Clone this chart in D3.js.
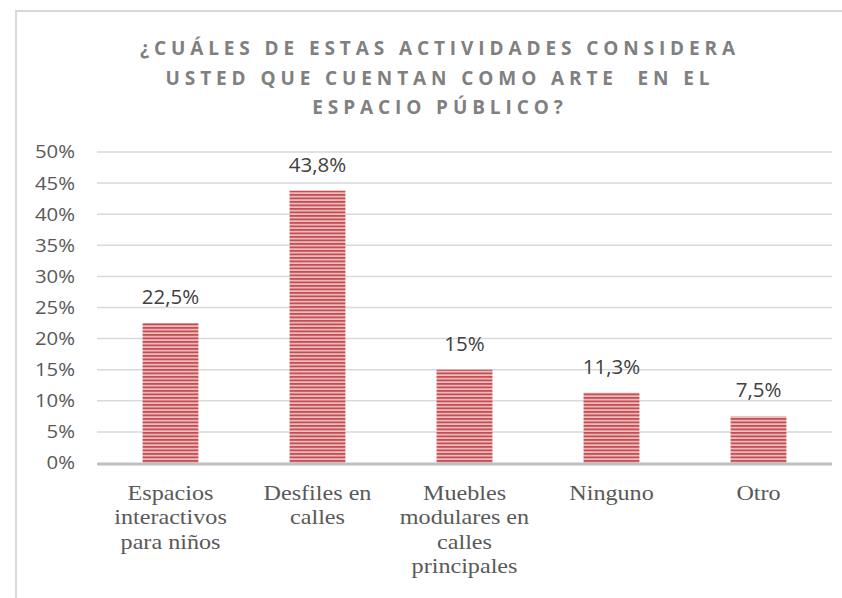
<!DOCTYPE html>
<html>
<head>
<meta charset="utf-8">
<script src="https://cdn.jsdelivr.net/npm/d3@7"></script>
<style>
  body { margin: 0; background: #fff; }
  text { white-space: pre; }
</style>
</head>
<body>
<div id="chart"></div>
<script>
let categories = [
  ['Espacios', 'interactivos', 'para niños'],
  ['Desfiles en', 'calles'],
  ['Muebles', 'modulares en', 'calles', 'principales'],
  ['Ninguno'],
  ['Otro']
]
let values = [22.5, 43.8, 15, 11.3, 7.5]
let valueLabels = ['22,5%', '43,8%', '15%', '11,3%', '7,5%']
let yTicks = [0, 5, 10, 15, 20, 25, 30, 35, 40, 45, 50]
let titleLines = [
  '¿CUÁLES DE ESTAS ACTIVIDADES CONSIDERA',
  'USTED QUE CUENTAN COMO ARTE  EN EL',
  'ESPACIO PÚBLICO?'
]

let margin = { top: 152, left: 97, right: 10, bottom: 135 }
let width = 842 - margin.left - margin.right
let height = 598 - margin.top - margin.bottom

let root = d3
  .select('#chart')
  .append('svg')
  .attr('width', 842)
  .attr('height', 598)

// striped fill for bars
let pattern = root
  .append('defs')
  .append('pattern')
  .attr('id', 'stripes')
  .attr('patternUnits', 'userSpaceOnUse')
  .attr('width', 8)
  .attr('height', 3.5)
pattern.append('rect').attr('width', 8).attr('height', 3.5).attr('fill', '#f0bcbc')
pattern.append('rect').attr('width', 8).attr('height', 1.8).attr('fill', '#c24f55')

// chart frame
root
  .append('path')
  .attr('d', 'M16,598 L16,11 L842,11')
  .attr('fill', 'none')
  .attr('stroke', '#d9d9d9')
  .attr('stroke-width', 2)

// title
root
  .append('g')
  .selectAll('text')
  .data(titleLines)
  .enter()
  .append('text')
  .attr('x', 440)
  .attr('y', (d, i) => 55 + i * 29.5)
  .attr('text-anchor', 'middle')
  .attr('font-family', 'Open Sans, sans-serif')
  .attr('font-weight', 'bold')
  .attr('font-size', 19)
  .attr('letter-spacing', 4.9)
  .attr('fill', '#808080')
  .text(d => d)

let svg = root
  .append('g')
  .attr('transform', 'translate(' + margin.left + ',' + margin.top + ')')

let xPositionScale = d3
  .scaleBand()
  .domain(d3.range(values.length))
  .range([0, width])
  .paddingInner(0.62)
  .paddingOuter(0.31)

let yPositionScale = d3.scaleLinear().domain([0, 50]).range([height, 0])

// gridlines
svg
  .selectAll('.grid')
  .data(yTicks.slice(1))
  .enter()
  .append('line')
  .attr('class', 'grid')
  .attr('x1', 0)
  .attr('x2', width)
  .attr('y1', d => yPositionScale(d))
  .attr('y2', d => yPositionScale(d))
  .attr('stroke', '#d9d9d9')
  .attr('stroke-width', 1.5)

// y labels
svg
  .selectAll('.y-label')
  .data(yTicks)
  .enter()
  .append('text')
  .attr('class', 'y-label')
  .attr('transform', d => 'translate(-22,' + yPositionScale(d) + ') scale(1.13,1)')
  .attr('dy', '0.36em')
  .attr('text-anchor', 'end')
  .attr('font-family', 'Open Sans, sans-serif')
  .attr('font-size', 18)
  .attr('fill', '#595959')
  .text(d => d + '%')

// bars
svg
  .selectAll('.bar')
  .data(values)
  .enter()
  .append('rect')
  .attr('class', 'bar')
  .attr('x', (d, i) => xPositionScale(i))
  .attr('width', xPositionScale.bandwidth())
  .attr('y', d => yPositionScale(d))
  .attr('height', d => height - yPositionScale(d))
  .attr('fill', 'url(#stripes)')

// baseline
svg
  .append('line')
  .attr('x1', 0)
  .attr('x2', width)
  .attr('y1', height + 1)
  .attr('y2', height + 1)
  .attr('stroke', '#bfbfbf')
  .attr('stroke-width', 3)

// value labels
svg
  .selectAll('.value-label')
  .data(values)
  .enter()
  .append('text')
  .attr('class', 'value-label')
  .attr('transform', (d, i) =>
    'translate(' + (xPositionScale(i) + xPositionScale.bandwidth() / 2) + ',' +
    (yPositionScale(d) - 19) + ') scale(1.05,1)')
  .attr('text-anchor', 'middle')
  .attr('font-family', 'Open Sans, sans-serif')
  .attr('font-size', 19.5)
  .attr('fill', '#404040')
  .text((d, i) => valueLabels[i])

// category labels
let catGroups = svg
  .selectAll('.cat-label')
  .data(categories)
  .enter()
  .append('text')
  .attr('class', 'cat-label')
  .attr('transform', (d, i) =>
    'translate(' + (xPositionScale(i) + xPositionScale.bandwidth() / 2) + ',0) scale(1.15,1)')
  .attr('text-anchor', 'middle')
  .attr('font-family', 'Liberation Serif, Times New Roman, serif')
  .attr('font-size', 21)
  .attr('fill', '#595959')

catGroups
  .selectAll('tspan')
  .data(d => d)
  .enter()
  .append('tspan')
  .attr('x', 0)
  .attr('y', (d, j) => height + 37 + j * 24.5)
  .text(d => d)
</script>
</body>
</html>
